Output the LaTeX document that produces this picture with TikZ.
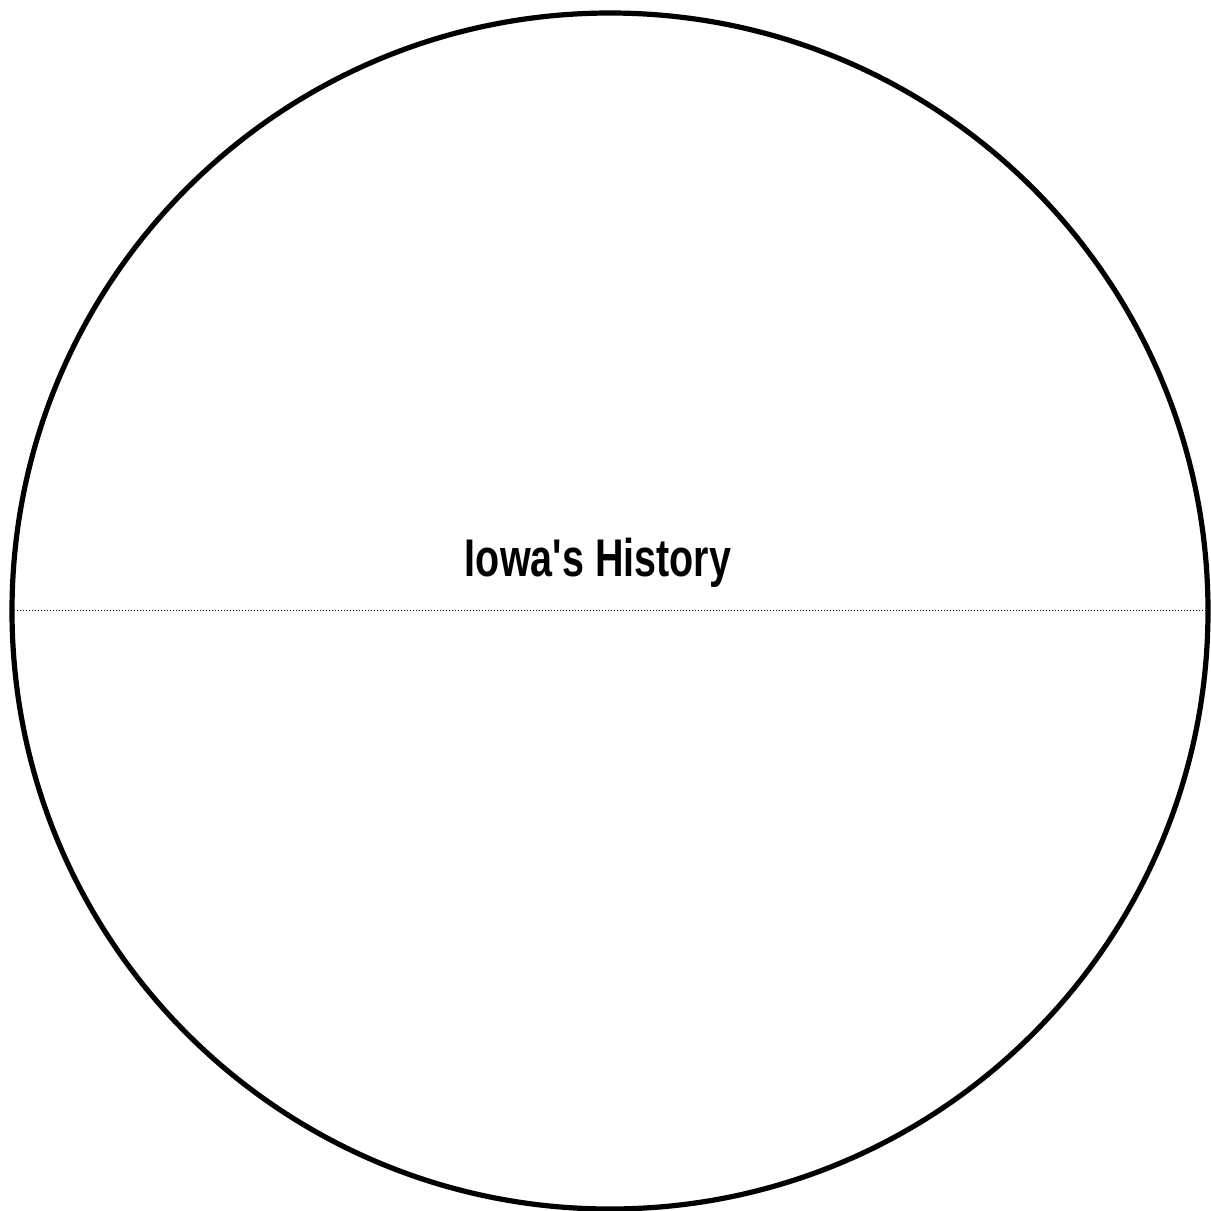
\documentclass[tikz,border=0pt]{standalone}
\usepackage{fontspec}
\setmainfont{Liberation Sans}
\begin{document}
\begin{tikzpicture}[x=0.75pt,y=-0.75pt,
  rim/.style={draw=black,line width=3.9pt},
  divider/.style={draw=black,line width=0.75pt,dash pattern=on 0.75pt off 1.5pt},
  title/.style={font=\fontsize{39.75pt}{44pt}\selectfont\bfseries,xscale=0.745,anchor=base,inner sep=0pt}]
\useasboundingbox (0,0) rectangle (1211,1211);
\coordinate (c) at (610,611);
\draw[rim] (c) circle[radius=598*0.75pt];
\coordinate (l) at (14,610);
\coordinate (r) at (1209,610);
\draw[divider] (l) -- (r);
\node[title] (t) at (598,576) {Iowa\textquotesingle s History};
\end{tikzpicture}
\end{document}
